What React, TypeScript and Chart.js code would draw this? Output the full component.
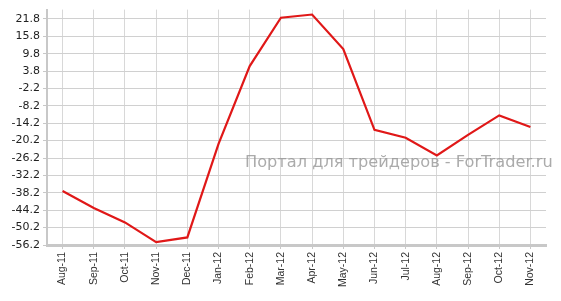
import React, { useEffect, useRef } from "react";
import { Chart, registerables } from "chart.js";

Chart.register(...registerables);

const categories = ["Aug-11","Sep-11","Oct-11","Nov-11","Dec-11","Jan-12","Feb-12","Mar-12","Apr-12","May-12","Jun-12","Jul-12","Aug-12","Sep-12","Oct-12","Nov-12"];
const values = [-37.6, -43.4, -48.4, -55.2, -53.6, -21.3, 5.5, 22.2, 23.3, 11.4, -16.5, -19.2, -25.3, -18.2, -11.5, -15.5];
const yTicks = [-56.2, -50.2, -44.2, -38.2, -32.2, -26.2, -20.2, -14.2, -8.2, -2.2, 3.8, 9.8, 15.8, 21.8];
const watermark = "Портал для трейдеров - ForTrader.ru";

export default function App() {
  const ref = useRef<HTMLCanvasElement>(null);
  useEffect(() => {
    document.body.style.margin = "0";
    const wm = {
      id: "wm",
      afterDatasetsDraw(chart: any) {
        const ctx = chart.ctx;
        ctx.save();
        ctx.font = "16.2px 'DejaVu Sans'";
        ctx.fillStyle = "rgba(150,150,150,0.8)";
        ctx.textBaseline = "alphabetic";
        ctx.fillText(watermark, 245, 167);
        ctx.restore();
      },
    };
    const chart = new Chart(ref.current!, {
      type: "line",
      data: {
        labels: categories,
        datasets: [{
          data: values,
          borderColor: "#e01818",
          borderWidth: 2.2,
          pointRadius: 0,
          tension: 0,
          fill: false,
        }],
      },
      options: {
        animation: false,
        responsive: false,
        maintainAspectRatio: false,
        layout: { padding: { top: 5, right: 15, bottom: 0, left: 0 } },
        plugins: { legend: { display: false }, tooltip: { enabled: false } },
        scales: {
          x: {
            offset: true,
            grid: { offset: false, color: "#d8d8d8", lineWidth: 1, tickLength: 4, tickColor: "#c8c8c8" },
            border: { color: "#c8c8c8", width: 3 },
            ticks: {
              autoSkip: false, maxRotation: 90, minRotation: 90, padding: 3,
              color: "#333", font: { family: "'Liberation Sans', Arial", size: 10.5 },
            },
            afterFit(scale: any) { scale.height = 56; },
          },
          y: {
            min: -56.2,
            max: 25,
            afterBuildTicks(scale: any) { scale.ticks = yTicks.map((v) => ({ value: v })); },
            grid: { color: "#d0d0d0", lineWidth: 1, tickLength: 4, tickColor: "#c8c8c8" },
            border: { color: "#c8c8c8", width: 2 },
            ticks: {
              padding: 3, color: "#222",
              font: { family: "'DejaVu Sans', Verdana", size: 11 },
              callback: (v: any) => Number(v).toFixed(1),
            },
            afterFit(scale: any) { scale.width = 47; },
          },
        },
      },
      plugins: [wm],
    });
    return () => chart.destroy();
  }, []);
  return (
    <div style={{ position: "absolute", left: 0, top: 0, width: 561, height: 301, background: "#fff" }}>
      <canvas ref={ref} width={561} height={301} style={{ width: 561, height: 301 }} />
    </div>
  );
}
